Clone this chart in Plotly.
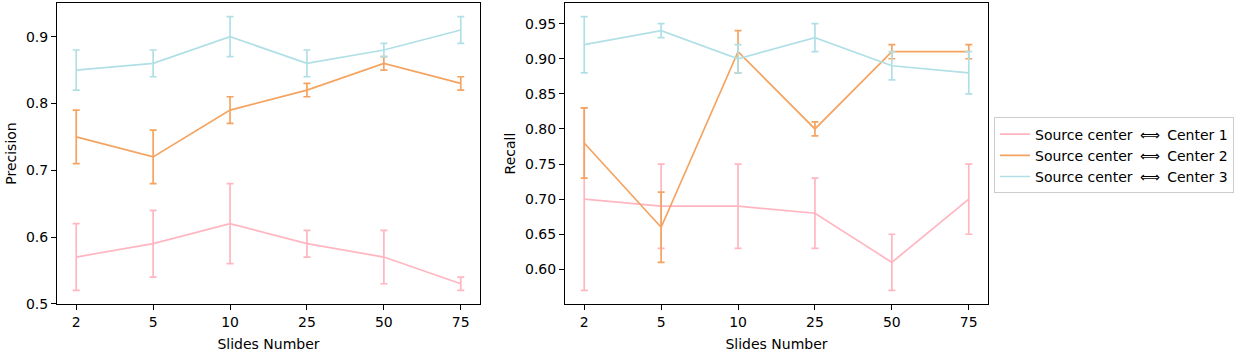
import plotly.graph_objects as go
from plotly.subplots import make_subplots

# ---------------------------------------------------------------------------
# Data
# ---------------------------------------------------------------------------
SLIDES = ["2", "5", "10", "25", "50", "75"]
NAMES = [
    "Source center \u2009⟺\u2009 Center 1",
    "Source center \u2009⟺\u2009 Center 2",
    "Source center \u2009⟺\u2009 Center 3",
]
COLORS = ["#FFB6C1", "#F4A460", "#B0E0E6"]

precision_c1 = [0.57, 0.59, 0.62, 0.59, 0.57, 0.53]
precision_c1_err = [0.05, 0.05, 0.06, 0.02, 0.04, 0.01]
precision_c2 = [0.75, 0.72, 0.79, 0.82, 0.86, 0.83]
precision_c2_err = [0.04, 0.04, 0.02, 0.01, 0.01, 0.01]
precision_c3 = [0.85, 0.86, 0.90, 0.86, 0.88, 0.91]
precision_c3_err = [0.03, 0.02, 0.03, 0.02, 0.01, 0.02]

recall_c1 = [0.70, 0.69, 0.69, 0.68, 0.61, 0.70]
recall_c1_err = [0.13, 0.06, 0.06, 0.05, 0.04, 0.05]
recall_c2 = [0.78, 0.66, 0.91, 0.80, 0.91, 0.91]
recall_c2_err = [0.05, 0.05, 0.03, 0.01, 0.01, 0.01]
recall_c3 = [0.92, 0.94, 0.90, 0.93, 0.89, 0.88]
recall_c3_err = [0.04, 0.01, 0.02, 0.02, 0.02, 0.03]

PRECISION_TICKS = [0.5, 0.6, 0.7, 0.8, 0.9]
RECALL_TICKS = [0.60, 0.65, 0.70, 0.75, 0.80, 0.85, 0.90, 0.95]

FONT = "DejaVu Sans"
FONTSIZE = 14
W, H = 1244, 362


def px_x(p):
    return p / W


def px_y(p):
    return 1 - p / H


# ---------------------------------------------------------------------------
# Figure
# ---------------------------------------------------------------------------
fig = make_subplots(rows=1, cols=2)

panels = [
    [(precision_c1, precision_c1_err), (precision_c2, precision_c2_err), (precision_c3, precision_c3_err)],
    [(recall_c1, recall_c1_err), (recall_c2, recall_c2_err), (recall_c3, recall_c3_err)],
]

for col, series in enumerate(panels, start=1):
    for j, (vals, errs) in enumerate(series):
        fig.add_trace(
            go.Scatter(
                x=SLIDES,
                y=vals,
                name=NAMES[j],
                mode="lines",
                line=dict(color=COLORS[j], width=1.7),
                error_y=dict(type="data", array=errs, visible=True,
                             color=COLORS[j], thickness=1.7, width=3.5),
                legendgroup=NAMES[j],
                showlegend=(col == 2),
            ),
            row=1, col=col,
        )

fig.update_layout(
    width=W,
    height=H,
    margin=dict(l=0, r=0, t=0, b=0),
    plot_bgcolor="white",
    paper_bgcolor="white",
    font=dict(family=FONT, size=FONTSIZE, color="black"),
    legend=dict(
        x=px_x(994), y=px_y(159), xanchor="left", yanchor="middle",
        bordercolor="#cccccc", borderwidth=1,
        font=dict(family=FONT, size=FONTSIZE),
        tracegroupgap=0,
    ),
    showlegend=True,
)

axis_style = dict(
    showline=True, mirror=True, linecolor="black", linewidth=1,
    ticks="outside", ticklen=5, tickcolor="black", showgrid=False, zeroline=False,
    tickfont=dict(family=FONT, size=FONTSIZE),
)
title_font = dict(family=FONT, size=FONTSIZE, color="black")

fig.update_xaxes(**axis_style, type="category", range=[-0.25, 5.25],
                 title=dict(text="Slides Number", standoff=10, font=title_font))
fig.update_xaxes(domain=[px_x(57), px_x(480)], row=1, col=1)
fig.update_xaxes(domain=[px_x(565), px_x(988)], row=1, col=2)

fig.update_yaxes(**axis_style, domain=[px_y(311), px_y(3)])
fig.update_yaxes(range=[0.4995, 0.9505], tickvals=PRECISION_TICKS, tickformat=".1f",
                 title=dict(text="Precision", standoff=6, font=title_font), row=1, col=1)
fig.update_yaxes(range=[0.5505, 0.9795], tickvals=RECALL_TICKS, tickformat=".2f",
                 title=dict(text="Recall", standoff=6, font=title_font), row=1, col=2)

# drop the default page margin so the figure sits at the window's top-left
fig.write_html("out.html", config={"displayModeBar": False},
               post_script="document.body.style.margin='0';")
